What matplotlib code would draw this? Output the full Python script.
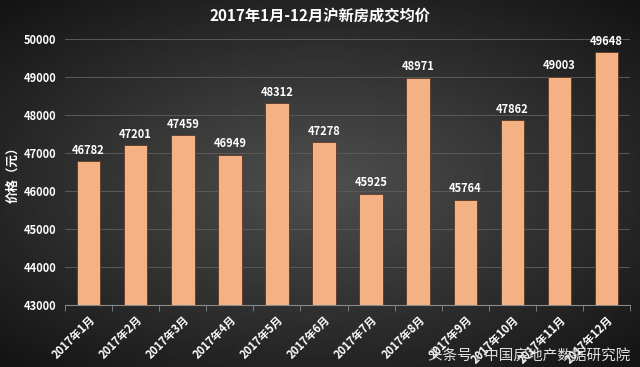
import numpy as np
import matplotlib.pyplot as plt

plt.rcParams['font.family'] = ['Noto Sans CJK SC', 'DejaVu Sans']

# DATA
months = ["2017年1月", "2017年2月", "2017年3月", "2017年4月", "2017年5月", "2017年6月",
          "2017年7月", "2017年8月", "2017年9月", "2017年10月", "2017年11月", "2017年12月"]
prices = [46782, 47201, 47459, 46949, 48312, 47278, 45925, 48971, 45764, 47862, 49003, 49648]
yticks = [43000, 44000, 45000, 46000, 47000, 48000, 49000, 50000]

fig = plt.figure(figsize=(6.4, 3.67), dpi=100)

# background: dark radial gradient
bg = fig.add_axes([0, 0, 1, 1], zorder=-1)
yy, xx = np.mgrid[-1:1:200j, -1:1:300j]
r = np.sqrt(xx**2 * 0.8 + yy**2 * 0.9)
bg.imshow(0.31 - 0.18 * np.clip(r, 0, 1.3), cmap="gray", vmin=0, vmax=1,
          aspect="auto", extent=[0, 1, 0, 1])
bg.axis("off")

ax = fig.add_axes([0.1016, 0.169, 0.883, 0.725])
ax.patch.set_alpha(0)
x = np.arange(len(months))
ax.bar(x, prices, width=0.5, color="#F4B183", edgecolor="#5a3a25",
       linewidth=0.6, zorder=3)
for xi, v in zip(x, prices):
    ax.text(xi, v + 120, str(v), ha="center", va="bottom", color="white",
            fontsize=8, fontweight="bold")

ax.set_ylim(43000, 50000)
ax.set_xlim(-0.5, len(months) - 0.5)
ax.set_yticks(yticks)
ax.set_yticklabels([str(t) for t in yticks], color="white", fontsize=8, fontweight="bold")
ax.tick_params(axis="y", length=0, pad=6)
ax.grid(axis="y", color="#5a5a5a", linewidth=0.7, zorder=0)

ax.set_xticks(x)
ax.set_xticklabels(months, rotation=45, ha="right", rotation_mode="anchor",
                   color="white", fontsize=8, fontweight="bold")
ax.set_xticks(np.arange(-0.5, len(months)), minor=True)
ax.tick_params(axis="x", which="major", length=0, pad=6)
ax.tick_params(axis="x", which="minor", length=4, color="#8a8a8a")
for s in ["top", "right", "left"]:
    ax.spines[s].set_visible(False)
ax.spines["bottom"].set_color("#8a8a8a")

ax.set_ylabel("价格（元）", color="white", fontsize=9, fontweight="bold")
ax.yaxis.set_label_coords(-0.081, 0.5)
fig.text(0.5, 0.958, "2017年1月-12月沪新房成交均价", ha="center", va="center",
         color="white", fontsize=11, fontweight="bold")
fig.text(0.985, 0.033, "头条号 / 中国房地产数据研究院", ha="right", va="center",
         color="#e0e0e0", fontsize=10.5)

fig.savefig("out.png", dpi=100)
